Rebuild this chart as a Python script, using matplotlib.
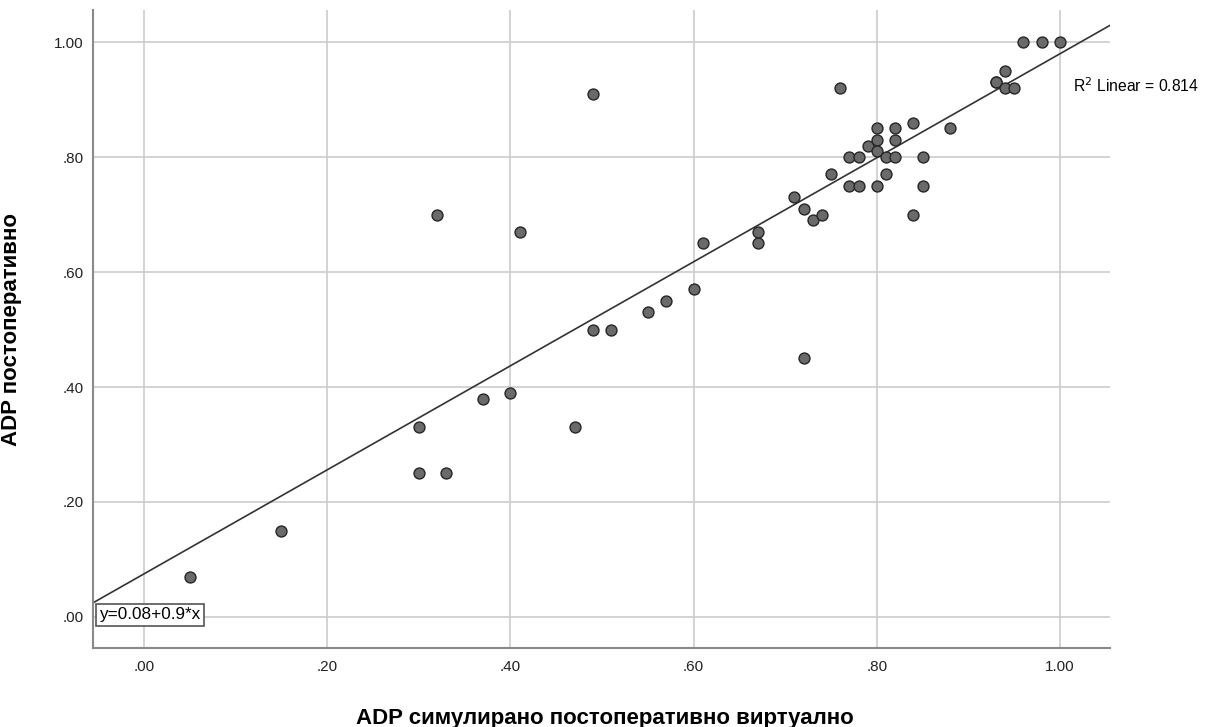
import numpy as np
import matplotlib
matplotlib.use('Agg')
import matplotlib.pyplot as plt

plt.rcParams['font.family'] = ['Liberation Sans', 'DejaVu Sans']

# ADP values
adp_virtual = [0.05, 0.15, 0.30, 0.30, 0.33, 0.37, 0.40, 0.47, 0.32, 0.41,
               0.49, 0.49, 0.51, 0.55, 0.57, 0.60, 0.61, 0.67, 0.67, 0.72,
               0.71, 0.72, 0.73, 0.74, 0.75, 0.76, 0.77, 0.77, 0.78, 0.78,
               0.79, 0.80, 0.80, 0.80, 0.80, 0.81, 0.81, 0.82, 0.82, 0.82,
               0.84, 0.84, 0.85, 0.85, 0.88, 0.93, 0.93, 0.94, 0.94, 0.95,
               0.96, 0.98, 1.00]
adp_postop = [0.07, 0.15, 0.33, 0.25, 0.25, 0.38, 0.39, 0.33, 0.70, 0.67,
              0.91, 0.50, 0.50, 0.53, 0.55, 0.57, 0.65, 0.67, 0.65, 0.45,
              0.73, 0.71, 0.69, 0.70, 0.77, 0.92, 0.80, 0.75, 0.80, 0.75,
              0.82, 0.85, 0.83, 0.81, 0.75, 0.80, 0.77, 0.85, 0.83, 0.80,
              0.86, 0.70, 0.80, 0.75, 0.85, 0.93, 0.93, 0.95, 0.92, 0.92,
              1.00, 1.00, 1.00]

# fit line (as reported: y=0.08+0.9*x, R2 = 0.814)
intercept, slope = 0.075, 0.905
r2 = 0.814
ticks = [0.0, 0.2, 0.4, 0.6, 0.8, 1.0]
tick_labels = ['.00', '.20', '.40', '.60', '.80', '1.00']

fig = plt.figure(figsize=(12.1, 7.27), dpi=100)
ax = fig.add_axes([0.0769, 0.1087, 0.8405, 0.8775])

ax.set_xlim(-0.0557, 1.0546)
ax.set_ylim(-0.054, 1.056)
ax.set_xticks(ticks)
ax.set_yticks(ticks)
ax.set_xticklabels(tick_labels)
ax.set_yticklabels(tick_labels)
ax.tick_params(length=0, labelsize=11, colors='#222222')
ax.tick_params(axis='x', pad=9)
ax.tick_params(axis='y', pad=7)
ax.grid(True, color='#cccccc', linewidth=1.2)
ax.set_axisbelow(True)

for s in ['top', 'right']:
    ax.spines[s].set_visible(False)
for s in ['left', 'bottom']:
    ax.spines[s].set_color('#8a8a8a')
    ax.spines[s].set_linewidth(1.5)

ax.axline((0, intercept), slope=slope, color='#333333', linewidth=1.2, zorder=2)
ax.scatter(adp_virtual, adp_postop, s=62, facecolor='#6a6a6a',
           edgecolor='#262626', linewidth=1.0, zorder=3)

ax.text(1.014, 0.925, 'R$^2$ Linear = %.3f' % r2, fontsize=11.3,
        ha='left', va='center', clip_on=False)
ax.text(0.006, 0.052, 'y=0.08+0.9*x', transform=ax.transAxes, fontsize=12.3,
        ha='left', va='center', zorder=4,
        bbox=dict(boxstyle='square,pad=0.2', facecolor='white',
                  edgecolor='#555555', linewidth=1.2))

ax.set_xlabel('ADP симулирано постоперативно виртуално', fontsize=16,
              fontweight='bold')
ax.set_ylabel('ADP постоперативно', fontsize=16, fontweight='bold')
ax.xaxis.set_label_coords(0.503, -0.094)
ax.yaxis.set_label_coords(-0.070, 0.5)

plt.savefig('out.png', dpi=100)
